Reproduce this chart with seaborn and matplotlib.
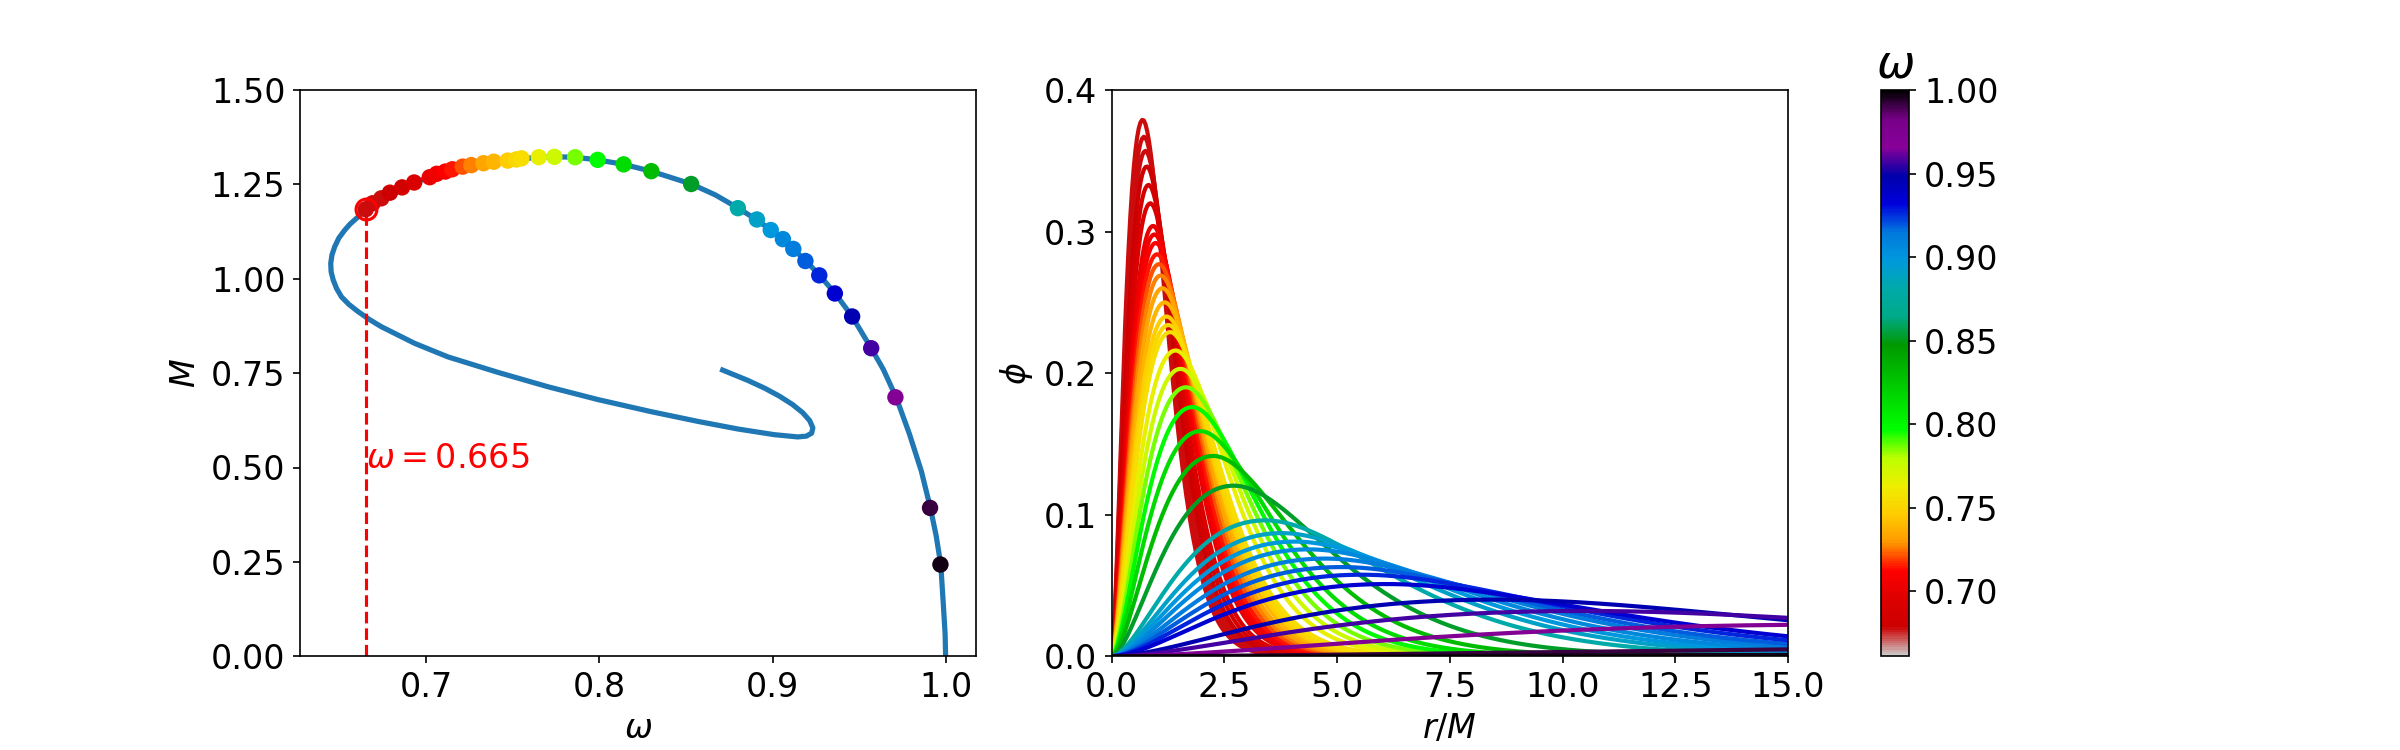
import numpy as np
import pandas as pd
import seaborn as sns
import matplotlib
matplotlib.use('Agg')
import matplotlib.pyplot as plt
from matplotlib.colors import Normalize
from matplotlib.cm import ScalarMappable

# M(omega) curve, read along the line from omega = 1 inwards
curve_w = [1.0, 0.9997, 0.9985, 0.9972, 0.9945, 0.9912, 0.986, 0.979, 0.9714,
           0.964, 0.957, 0.946, 0.9362, 0.9272, 0.9194, 0.9119, 0.9056, 0.8991,
           0.8906, 0.8802, 0.867, 0.8531, 0.8298, 0.8141, 0.7987, 0.7858, 0.7744,
           0.7648, 0.7519, 0.7394, 0.726, 0.7154, 0.7019, 0.6932, 0.6856, 0.6788,
           0.6736, 0.6692, 0.665, 0.6606, 0.656, 0.6529, 0.6495, 0.6471, 0.6455,
           0.6448, 0.645, 0.6462, 0.6482, 0.651, 0.6553, 0.6606, 0.6668, 0.674,
           0.6932, 0.7125, 0.7414, 0.7702, 0.7991, 0.8298, 0.857, 0.880, 0.901,
           0.9145, 0.9195, 0.9226, 0.9233, 0.9215, 0.9175, 0.9115, 0.9040, 0.8955,
           0.8856, 0.8712]
curve_M = [0.0, 0.06, 0.15, 0.243, 0.32, 0.393, 0.49, 0.59, 0.686,
           0.76, 0.816, 0.90, 0.961, 1.009, 1.047, 1.079, 1.105, 1.129,
           1.157, 1.187, 1.222, 1.251, 1.285, 1.303, 1.315, 1.322, 1.323,
           1.322, 1.316, 1.310, 1.301, 1.290, 1.269, 1.255, 1.242, 1.228,
           1.213, 1.200, 1.184, 1.164, 1.145, 1.129, 1.108, 1.085, 1.063,
           1.041, 1.019, 0.997, 0.974, 0.952, 0.932, 0.913, 0.893, 0.873,
           0.829, 0.793, 0.752, 0.714, 0.680, 0.648, 0.622, 0.602, 0.587,
           0.581, 0.583, 0.591, 0.605, 0.624, 0.645, 0.667, 0.689, 0.710,
           0.731, 0.758]

# solutions shown as dots (left) and profiles (right)
sol_w = [0.665, 0.669, 0.674, 0.679, 0.686, 0.693, 0.702, 0.706, 0.711, 0.715,
         0.721, 0.726, 0.733, 0.739, 0.747, 0.752, 0.755, 0.765, 0.774, 0.786,
         0.799, 0.814, 0.830, 0.853, 0.880, 0.891, 0.899, 0.906, 0.912, 0.919,
         0.927, 0.936, 0.946, 0.957, 0.971, 0.991, 0.997]
sol_M = [1.184, 1.200, 1.213, 1.228, 1.242, 1.255, 1.269, 1.278, 1.284, 1.290,
         1.297, 1.301, 1.306, 1.310, 1.313, 1.316, 1.319, 1.322, 1.323, 1.322,
         1.315, 1.303, 1.285, 1.251, 1.187, 1.157, 1.129, 1.105, 1.079, 1.047,
         1.009, 0.961, 0.900, 0.816, 0.686, 0.393, 0.243]
# peak of each scalar field profile
peak_r = [0.69, 0.72, 0.75, 0.78, 0.82, 0.86, 0.92, 0.95, 0.98, 1.01,
          1.05, 1.09, 1.13, 1.18, 1.22, 1.26, 1.30, 1.42, 1.53, 1.65,
          1.79, 1.97, 2.25, 2.71, 3.41, 3.78, 4.07, 4.37, 4.74, 5.10,
          5.55, 6.10, 8.5, 10.5, 17.0, 35.0, 60.0]
peak_phi = [0.379, 0.367, 0.357, 0.346, 0.333, 0.320, 0.304, 0.298, 0.292, 0.284,
            0.277, 0.269, 0.260, 0.250, 0.240, 0.234, 0.229, 0.216, 0.203, 0.190,
            0.176, 0.159, 0.1415, 0.1205, 0.096, 0.087, 0.081, 0.0755, 0.069, 0.063,
            0.0576, 0.051, 0.040, 0.032, 0.0225, 0.008, 0.003]

w_mark, M_mark = 0.665, 1.184

plt.rcParams['font.size'] = 16

cmap = plt.get_cmap('nipy_spectral_r')
norm = Normalize(vmin=0.661, vmax=1.0)
pal = {w: cmap(np.clip(norm(w), 0.05, 1.0)) for w in sol_w}


def profile(r, rp, a=1.8, b=2.3):
    x = r / rp
    k = np.where(x < 1, a, b)
    return x ** k * np.exp(k * (1 - x))


r = np.linspace(0, 15, 400)
rows = []
for w, rp, A in zip(sol_w, peak_r, peak_phi):
    rows.append(pd.DataFrame({'r': r, 'phi': A * profile(r, rp), 'omega': w}))
prof = pd.concat(rows, ignore_index=True)

fig, axs = plt.subplots(1, 2, figsize=(16, 5), dpi=150)
fig.subplots_adjust(bottom=0.125, top=0.88)

ax = axs[0]
sns.lineplot(x=curve_w, y=curve_M, sort=False, estimator=None,
             color='tab:blue', lw=2.5, ax=ax)
sns.scatterplot(x=sol_w, y=sol_M, hue=sol_w, palette=pal, s=62,
                linewidth=0, legend=False, zorder=3, ax=ax)
ax.plot([w_mark, w_mark], [0, M_mark], color='red', ls='--', lw=1.5)
ax.plot(w_mark, M_mark, 'o', mfc='none', mec='red', ms=10, mew=1.5, zorder=4)
ax.text(w_mark, 0.5, r'$\omega=0.665$', color='red', fontsize=16)
ax.set_ylim(0, 1.5)
ax.set_yticks(np.arange(0, 1.51, 0.25))
ax.set_xlabel(r'$\omega$')
ax.set_ylabel(r'$M$')

ax = axs[1]
sns.lineplot(data=prof, x='r', y='phi', hue='omega', palette=pal,
             estimator=None, lw=2, legend=False, ax=ax)
ax.set_xlim(0, 15)
ax.set_ylim(0, 0.4)
ax.set_yticks([0.0, 0.1, 0.2, 0.3, 0.4])
ax.set_xlabel(r'$r/M$')
ax.set_ylabel(r'$\phi$')

sm = ScalarMappable(norm=norm, cmap=cmap)
cbar = fig.colorbar(sm, ax=axs)
cbar.ax.set_title(r'$\omega$', fontsize=22)

fig.savefig('out.png', dpi=150)
